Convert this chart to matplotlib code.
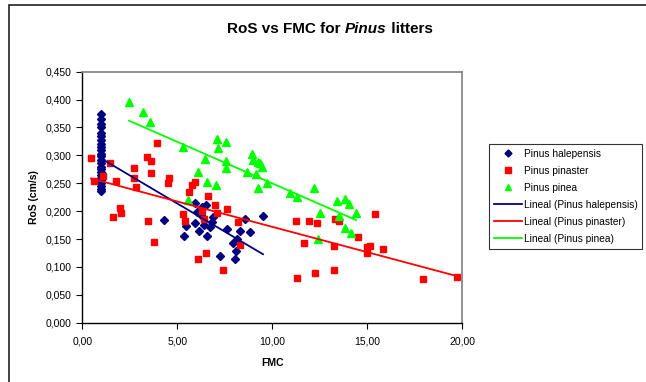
"""RoS vs FMC for Pinus litters, with Excel-style linear trendlines."""
import matplotlib
matplotlib.use("Agg")
import matplotlib.pyplot as plt
import numpy as np
from matplotlib.patches import Rectangle
from matplotlib.ticker import FuncFormatter

plt.rcParams["font.family"] = ["Liberation Sans", "DejaVu Sans"]

# --- data ---
hal_fmc = [0.98] * 24 + [4.3, 5.35, 5.46, 5.93, 5.93, 6.14, 6.41, 6.56, 6.72, 6.83,
                         6.88, 8.56, 9.51, 7.62, 8.3, 8.83, 7.93, 8.14, 8.09, 8.04,
                         7.25, 6.04, 6.3, 6.5, 6.25]
hal_ros = [0.375, 0.365, 0.357, 0.35, 0.34, 0.335, 0.328, 0.32, 0.315, 0.31,
           0.303, 0.298, 0.292, 0.287, 0.28, 0.275, 0.27, 0.265, 0.26, 0.255,
           0.25, 0.245, 0.24, 0.237,
           0.184, 0.155, 0.173, 0.214, 0.179, 0.164, 0.175, 0.155, 0.172, 0.18,
           0.189, 0.186, 0.191, 0.168, 0.164, 0.163, 0.143, 0.15, 0.129, 0.114,
           0.12, 0.198, 0.207, 0.211, 0.193]

pin_fmc = [0.46, 0.62, 1.09, 1.46, 1.77, 2.72, 2.72, 2.83, 3.4, 3.62,
           3.62, 3.93, 4.56, 4.51, 1.98, 1.62, 2.04, 3.46, 3.77, 5.3,
           5.4, 6.09, 5.93, 5.77, 5.61, 6.62, 6.98, 7.62, 6.3, 7.09,
           6.41, 8.2, 11.25, 11.92, 12.34, 11.67, 12.26, 11.3, 8.3, 6.51,
           7.41, 15.4, 14.51, 13.25, 14.97, 15.14, 14.97, 15.83, 13.3, 13.5,
           13.25, 17.93, 19.72]
pin_ros = [0.295, 0.254, 0.263, 0.286, 0.254, 0.277, 0.259, 0.243, 0.297, 0.29,
           0.268, 0.322, 0.259, 0.25, 0.206, 0.19, 0.197, 0.182, 0.145, 0.195,
           0.182, 0.114, 0.252, 0.247, 0.234, 0.227, 0.211, 0.204, 0.2, 0.196,
           0.186, 0.18, 0.182, 0.182, 0.179, 0.143, 0.089, 0.08, 0.139, 0.125,
           0.094, 0.195, 0.154, 0.137, 0.136, 0.137, 0.125, 0.132, 0.186, 0.182,
           0.094, 0.078, 0.082]

pinea_fmc = [2.46, 3.2, 3.56, 5.3, 6.09, 5.56, 7.09, 7.56, 7.14, 6.46,
             7.56, 7.56, 8.93, 8.99, 9.25, 9.35, 9.46, 8.67, 9.14, 6.56,
             7.04, 9.25, 9.72, 10.93, 11.3, 12.2, 13.4, 13.82, 14.04, 14.41,
             12.51, 13.5, 13.82, 14.14, 12.4]
pinea_ros = [0.396, 0.378, 0.36, 0.315, 0.27, 0.22, 0.329, 0.324, 0.313, 0.293,
             0.29, 0.277, 0.302, 0.292, 0.288, 0.286, 0.279, 0.27, 0.267, 0.252,
             0.247, 0.241, 0.25, 0.233, 0.225, 0.241, 0.218, 0.221, 0.212, 0.196,
             0.196, 0.191, 0.169, 0.161, 0.15]

series = [
    ("Pinus halepensis", hal_fmc, hal_ros, "#000080", "D", 4.4),
    ("Pinus pinaster", pin_fmc, pin_ros, "#FF0000", "s", 5.0),
    ("Pinus pinea", pinea_fmc, pinea_ros, "#00FF00", "^", 5.2),
]

W, H = 646, 382
fig = plt.figure(figsize=(W / 100, H / 100), dpi=100)

# outer chart border (right and bottom edges fall outside the image)
fig.add_artist(Rectangle((9 / W, -0.05), 1.1, 1 - 5 / H + 0.05,
                         transform=fig.transFigure, fill=False,
                         edgecolor="#202020", lw=1.2))

ax = fig.add_axes([82.3 / W, (H - 322.7) / H, 380 / W, 251 / H])

for name, x, y, col, mk, ms in series:
    ax.plot(x, y, ls="none", marker=mk, color=col, ms=ms, mec=col, label=name)

for name, x, y, col, mk, ms in series:
    k, b = np.polyfit(x, y, 1)
    xs = np.array([min(x), max(x)])
    ax.plot(xs, k * xs + b, color=col, lw=1.3, label=f"Lineal ({name})")

ax.set_xlim(0, 20)
ax.set_ylim(0, 0.45)
ax.set_xticks(np.arange(0, 20.1, 5))
ax.set_yticks(np.arange(0, 0.451, 0.05))
ax.xaxis.set_major_formatter(FuncFormatter(lambda v, p: f"{v:.2f}".replace(".", ",")))
ax.yaxis.set_major_formatter(FuncFormatter(lambda v, p: f"{v:.3f}".replace(".", ",")))
ax.tick_params(labelsize=7.5, length=4, width=0.8, direction="out", colors="black")
ax.tick_params(axis="x", pad=6)
for s in ("top", "right"):
    ax.spines[s].set_color("#808080")
    ax.spines[s].set_linewidth(1.2)
for s in ("left", "bottom"):
    ax.spines[s].set_linewidth(1.0)

ax.set_xlabel("FMC", fontsize=7.5, fontweight="bold", labelpad=8)
ax.set_ylabel("RoS (cm/s)", fontsize=7.5, fontweight="bold", labelpad=5)

leg = fig.legend(loc="upper left", bbox_to_anchor=(489 / W, (H - 144) / H),
                 fontsize=7.3, frameon=True, fancybox=False, handlelength=2.8,
                 handletextpad=0.2, labelspacing=0.7, borderpad=0.45,
                 borderaxespad=0, markerscale=0.8)
leg.get_frame().set_edgecolor("black")
leg.get_frame().set_linewidth(0.8)

# title with italic genus name, centred on the chart area
fig.canvas.draw()
r = fig.canvas.get_renderer()
parts = [("RoS vs FMC for ", "normal"), ("Pinus", "italic"), (" litters", "normal")]
texts = [fig.text(0, 0, s, fontsize=11, fontweight="bold", style=st)
         for s, st in parts]
widths = [t.get_window_extent(r).width for t in texts]
x0 = 330 - sum(widths) / 2
ty = 1 - 33 / H
for t, w in zip(texts, widths):
    t.set_position((x0 / W, ty))
    x0 += w

fig.savefig("out.png", dpi=100)
